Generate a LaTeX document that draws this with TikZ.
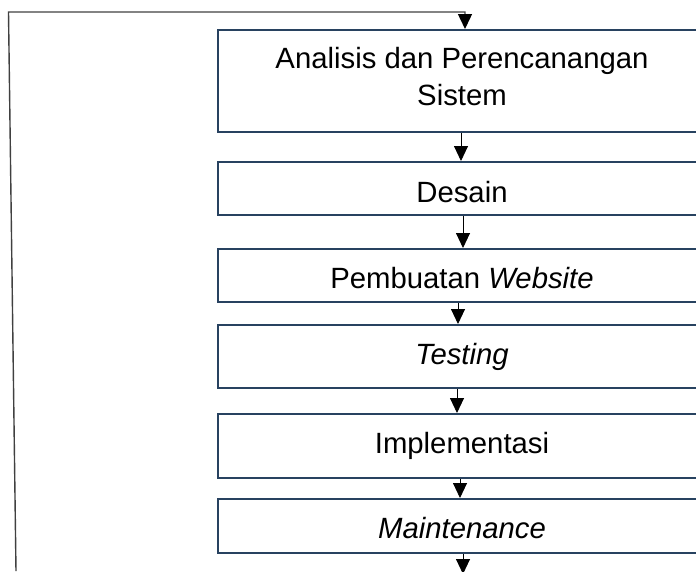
\documentclass[tikz,border=0pt]{standalone}
\usepackage{fontspec}
\setmainfont{Liberation Sans}
\usetikzlibrary{arrows.meta,calc}
\definecolor{boxblue}{RGB}{40,66,96}
\definecolor{loopgray}{RGB}{64,64,64}
\begin{document}
\begin{tikzpicture}[x=1pt,y=-1pt,
  stage/.style={draw=boxblue, line width=2pt, minimum width=488pt, inner sep=0pt,
    font=\fontsize{29.3}{37}\selectfont, text height=21pt, text depth=0pt},
  tip/.style={-{Triangle[length=15pt,width=14pt,color=black,fill=black]}},
  flow/.style={draw=black, line width=0.9pt, tip},
  loopline/.style={draw=loopgray, line width=1.4pt}]
\path[use as bounding box, clip] (0,0) rectangle (696,571);
\node[stage, minimum height=102pt, align=center, text height=58pt, text depth=10pt] (s1) at (462,81) {Analisis dan Perencanangan\\Sistem};
\node[stage, minimum height=53pt, text height=27pt] (s2) at (462,188.5) {Desain};
\node[stage, minimum height=53pt, text height=25pt] (s3) at (462,275.5) {Pembuatan \textit{Website}};
\node[stage, minimum height=63pt, text height=16pt] (s4) at (462,356.5) {\textit{Testing}};
\node[stage, minimum height=64pt, text height=15pt] (s5) at (462,446) {Implementasi};
\node[stage, minimum height=54pt, text height=24pt] (s6) at (462,526) {\textit{Maintenance}};
\draw[flow] ([xshift=-1pt]s1.south) -- ([xshift=-1pt]s2.north);
\draw[flow] ([xshift=1pt]s2.south) -- ([xshift=1pt]s3.north);
\draw[flow] ([xshift=-4pt]s3.south) -- ([xshift=-4pt]s4.north);
\draw[flow] ([xshift=-5pt]s4.south) -- ([xshift=-5pt]s5.north);
\draw[flow] ([xshift=-2pt]s5.south) -- ([xshift=-2pt]s6.north);
\coordinate (out) at (463,574);
\draw[flow] (s6.south -| out) -- (out);
\coordinate (lb) at (16,571);
\coordinate (lt) at (8.5,12);
\coordinate (rt) at (465,12);
\draw[loopline, tip] (lb) -- (lt) -- (rt) -- (rt |- s1.north);
\end{tikzpicture}
\end{document}
